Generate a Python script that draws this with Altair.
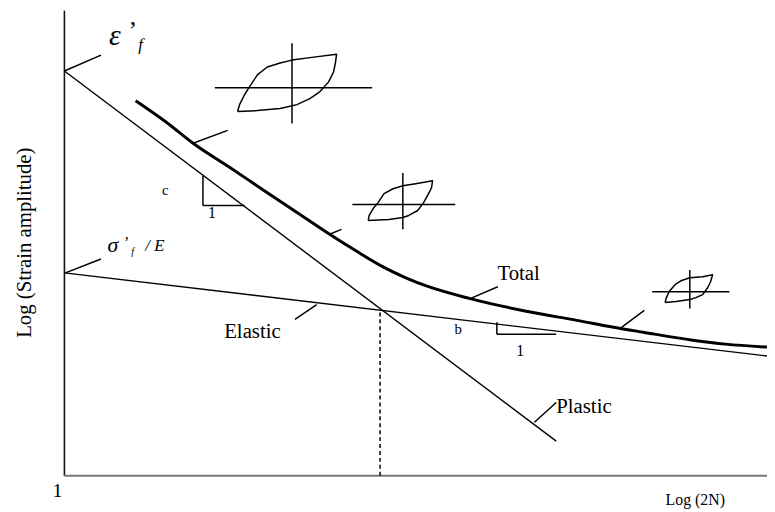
import altair as alt
import pandas as pd

# ---------------- data (schematic units: x = log(2N), y = log(strain amplitude)) ----------------
ELASTIC_X = [0, 710]
ELASTIC_Y = [205, 121]
PLASTIC_X = [0, 497]
PLASTIC_Y = [409, 35]
TOTAL_X = [72, 102, 130, 168, 202, 235, 268, 295, 322, 345, 368, 410, 468, 518, 555, 585, 635, 668, 710]
TOTAL_Y = [379, 358, 336, 311, 288, 266, 244, 227, 211, 200, 191, 179, 166, 157, 150, 145, 137, 133, 130]
TRANSITION_X = 319
TRANSITION_Y = 167

# hysteresis loops (closed paths)
LOOP1_X = [175, 177, 182, 187, 195, 205, 218, 230, 252, 275, 274, 272, 267, 258, 248, 235, 218, 195, 175]
LOOP1_Y = [368, 375, 385, 393, 405, 413, 417, 420, 423, 426, 418, 408, 398, 388, 381, 375, 371, 369, 368]
LOOP2_X = [307, 308, 312, 317, 323, 332, 342, 355, 372, 371, 368, 363, 357, 348, 342, 328, 307]
LOOP2_Y = [258, 263, 270, 276, 285, 290, 293, 295, 298, 291, 285, 276, 268, 263, 261, 259, 258]
LOOP3_X = [607, 608, 611, 617, 623, 632, 645, 655, 653, 650, 645, 638, 632, 618, 607]
LOOP3_Y = [175, 179, 186, 193, 197, 200, 201, 203, 196, 190, 183, 180, 178, 176, 175]

# loop stress/strain crosshairs
CROSS_X1 = [152, 230, 291, 342, 594, 632]
CROSS_Y1 = [392, 437, 274, 306, 186, 208]
CROSS_X2 = [311, 230, 395, 342, 672, 632]
CROSS_Y2 = [392, 356, 274, 249, 186, 169]

# leader lines and slope triangles
SEG_X1 = [0, 1, 130, 268, 233, 410, 563, 475, 140, 140, 437, 437]
SEG_Y1 = [409, 205, 336, 244, 158, 179, 150, 54, 303, 273, 155, 143]
SEG_X2 = [37, 37, 165, 280, 255, 438, 586, 497, 140, 182, 437, 497]
SEG_Y2 = [425, 219, 349, 249, 173, 191, 167, 74, 273, 273, 143, 143]

# labels
LAB_TEXT = ["Elastic", "Total", "Plastic", "b", "1", "c", "1", "1", "Log (2N)", "\u2019", "\u2019"]
LAB_X = [190, 459, 525, 398, 460.5, 102, 149, -7, 637.5, 69, 63]
LAB_Y = [139, 198, 63, 143, 121, 284, 260, -22, -30, 441, 230]
LAB_SIZE = [21, 21, 21, 15, 16, 15, 16, 20, 16, 26, 16]

IT_TEXT = ["\u03b5", "f", "\u03c3", "f", "/ E"]
IT_X = [51, 77, 49, 69, 91.5]
IT_Y = [435, 430, 226, 223, 227]
IT_SIZE = [30, 17, 22, 10, 17]

YTITLE = "Log (Strain amplitude)"

# ---------------- build ----------------
XS = alt.Scale(domain=[0, 710], nice=False, zero=False)
YS = alt.Scale(domain=[0, 470], nice=False, zero=False)
FONT = "Liberation Serif"


def X(f="x"):
    return alt.X(f"{f}:Q", scale=XS, axis=None)


def Y(f="y"):
    return alt.Y(f"{f}:Q", scale=YS, axis=None)


axes_df = pd.DataFrame({"x": [0, 0], "y": [0, 0], "x2": [0, 710], "y2": [470, 0],
                        "w": [1.6, 2.2], "c": ["#111111", "#777777"]})
axes = alt.Chart(axes_df).mark_rule().encode(
    x=X(), y=Y(), x2="x2:Q", y2="y2:Q",
    strokeWidth=alt.StrokeWidth("w:Q", scale=None),
    color=alt.Color("c:N", scale=None),
)

lines_df = pd.concat([
    pd.DataFrame({"x": ELASTIC_X, "y": ELASTIC_Y, "g": "Elastic", "i": range(len(ELASTIC_X))}),
    pd.DataFrame({"x": PLASTIC_X, "y": PLASTIC_Y, "g": "Plastic", "i": range(len(PLASTIC_X))}),
])
thin_lines = alt.Chart(lines_df).mark_line(color="black", strokeWidth=1.4).encode(
    x=X(), y=Y(), detail="g:N", order="i:Q")

total_df = pd.DataFrame({"x": TOTAL_X, "y": TOTAL_Y, "i": range(len(TOTAL_X))})
total = alt.Chart(total_df).mark_line(color="black", strokeWidth=3, interpolate="monotone").encode(
    x=X(), y=Y(), order="i:Q")

loops_df = pd.concat([
    pd.DataFrame({"x": LOOP1_X, "y": LOOP1_Y, "g": "L1", "i": range(len(LOOP1_X))}),
    pd.DataFrame({"x": LOOP2_X, "y": LOOP2_Y, "g": "L2", "i": range(len(LOOP2_X))}),
    pd.DataFrame({"x": LOOP3_X, "y": LOOP3_Y, "g": "L3", "i": range(len(LOOP3_X))}),
])
loops = alt.Chart(loops_df).mark_line(color="black", strokeWidth=1.5, strokeJoin="round").encode(
    x=X(), y=Y(), detail="g:N", order="i:Q")

seg_df = pd.DataFrame({"x": SEG_X1 + CROSS_X1, "y": SEG_Y1 + CROSS_Y1,
                       "x2": SEG_X2 + CROSS_X2, "y2": SEG_Y2 + CROSS_Y2})
segs = alt.Chart(seg_df).mark_rule(color="black", strokeWidth=1.5).encode(
    x=X(), y=Y(), x2="x2:Q", y2="y2:Q")

dash_df = pd.DataFrame({"x": [TRANSITION_X], "y": [0], "y2": [TRANSITION_Y]})
dashed = alt.Chart(dash_df).mark_rule(color="black", strokeWidth=1.5, strokeDash=[4, 3]).encode(
    x=X(), y=Y(), y2="y2:Q")

lab_df = pd.DataFrame({"t": LAB_TEXT, "x": LAB_X, "y": LAB_Y, "s": LAB_SIZE})
labels = alt.Chart(lab_df).mark_text(font=FONT, color="black", align="center",
                                     baseline="alphabetic").encode(
    x=X(), y=Y(), text="t:N", size=alt.Size("s:Q", scale=None))

it_df = pd.DataFrame({"t": IT_TEXT, "x": IT_X, "y": IT_Y, "s": IT_SIZE})
italics = alt.Chart(it_df).mark_text(font=FONT, fontStyle="italic", color="black", align="center",
                                     baseline="alphabetic").encode(
    x=X(), y=Y(), text="t:N", size=alt.Size("s:Q", scale=None))

yt_df = pd.DataFrame({"t": [YTITLE], "x": [-34], "y": [235.5]})
ytitle = alt.Chart(yt_df).mark_text(font=FONT, fontSize=21, color="black", align="center",
                                    baseline="alphabetic", angle=270).encode(
    x=X(), y=Y(), text="t:N")

chart = alt.layer(axes, thin_lines, dashed, total, loops, segs, labels, italics, ytitle).properties(
    width=710, height=470,
    padding={"left": 57, "top": 0, "right": 0, "bottom": 34},
    autosize=alt.AutoSizeParams(type="none"),
    background="white",
).configure_view(stroke=None)

chart.save("out.html", embed_options={"renderer": "svg", "actions": False})
